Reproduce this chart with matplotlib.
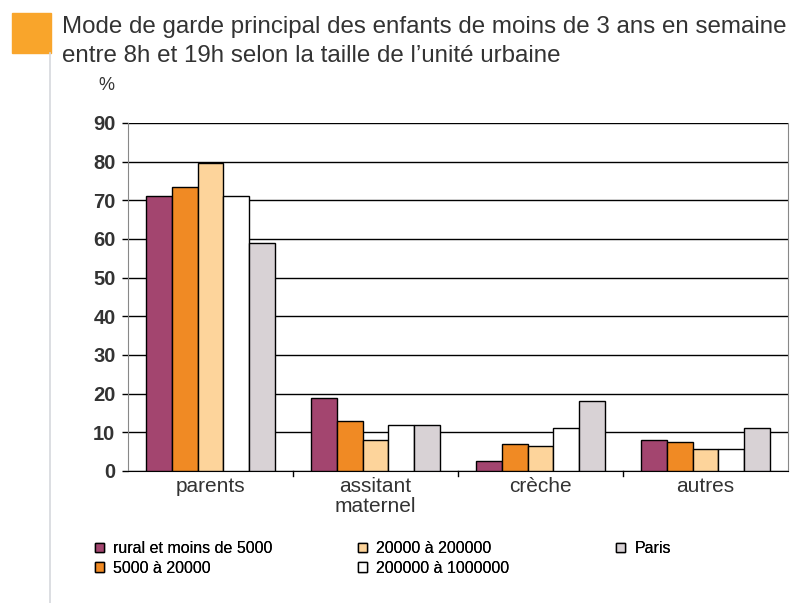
import numpy as np
import matplotlib
matplotlib.use("Agg")
import matplotlib.pyplot as plt
from matplotlib.patches import Rectangle
from matplotlib.lines import Line2D

plt.rcParams["font.family"] = ["Liberation Sans", "DejaVu Sans"]

categories = ["parents", "assitant\nmaternel", "crèche", "autres"]
series_labels = ["rural et moins de 5000", "5000 à 20000", "20000 à 200000",
                 "200000 à 1000000", "Paris"]
rural = [71, 19, 2.7, 7.9]
from_5000 = [73.5, 13, 7, 7.5]
from_20000 = [79.7, 7.9, 6.4, 5.8]
from_200000 = [71, 12, 11, 5.8]
paris = [59, 12, 18, 11]
colors = ["#A3456F", "#F08A24", "#FDD49B", "#FFFFFF", "#D8D2D5"]

fig = plt.figure(figsize=(8, 6.03), dpi=100)
ax = fig.add_axes([128 / 800, 1 - 471 / 603, 660 / 800, 348 / 603])

x = np.arange(len(categories))
width = 0.156
handles = []
for i, (vals, col, lab) in enumerate(zip(
        [rural, from_5000, from_20000, from_200000, paris], colors, series_labels)):
    h = ax.bar(x + (i - 2) * width, vals, width=width, color=col,
               edgecolor="black", linewidth=1.0, label=lab, zorder=3)
    handles.append(h)

ax.set_ylim(0, 90)
ax.set_xlim(-0.5, 3.5)
ax.set_yticks(range(0, 91, 10))
ax.yaxis.grid(True, color="black", linewidth=1.0, zorder=0)
ax.set_axisbelow(True)
ax.tick_params(axis="y", labelsize=14.5, length=4, width=1, pad=5)
for t in ax.get_yticklabels():
    t.set_fontweight("bold")
    t.set_color("#333333")

ax.set_xticks(x)
ax.set_xticklabels(categories, fontsize=15, color="#333333", linespacing=1.1)
ax.tick_params(axis="x", length=0, pad=4)
for b in [0.5, 1.5, 2.5]:
    ax.plot([b, b], [0, -1.2], color="black", lw=1, clip_on=False)

ax.spines["top"].set_visible(False)
ax.spines["left"].set_color("#888888")
ax.spines["right"].set_color("#888888")
ax.spines["bottom"].set_color("black")

fig.text(106 / 800, 1 - 85 / 603, "%", fontsize=13, ha="center",
         va="center", color="#333333")

# title block
fig.patches.append(Rectangle((12 / 800, 1 - 53 / 603), 39 / 800, 40 / 603,
                             transform=fig.transFigure, color="#F9A52B"))
fig.add_artist(Line2D([49.5 / 800, 49.5 / 800], [0, 1 - 53 / 603],
                      transform=fig.transFigure, color="#D5D8DD", lw=1.2))
fig.text(62 / 800, 1 - 33 / 603,
         "Mode de garde principal des enfants de moins de 3 ans en semaine",
         fontsize=17.4, color="#333333", va="baseline")
fig.text(62 / 800, 1 - 62 / 603,
         "entre 8h et 19h selon la taille de l\u2019unité urbaine",
         fontsize=17.4, color="#333333", va="baseline")

# legend: three fixed columns
columns = [(95, [0, 1]), (358, [2, 3]), (616, [4])]
for xpos, idx in columns:
    leg = fig.legend([handles[k] for k in idx], [series_labels[k] for k in idx],
                     loc="upper left", bbox_to_anchor=(xpos / 800, 1 - 541 / 603),
                     frameon=False, fontsize=11.5, handlelength=0.55,
                     handleheight=0.55, handletextpad=0.6,
                     labelspacing=0.3, borderaxespad=0, borderpad=0)
    fig.add_artist(leg)

fig.savefig("out.png", dpi=100)
